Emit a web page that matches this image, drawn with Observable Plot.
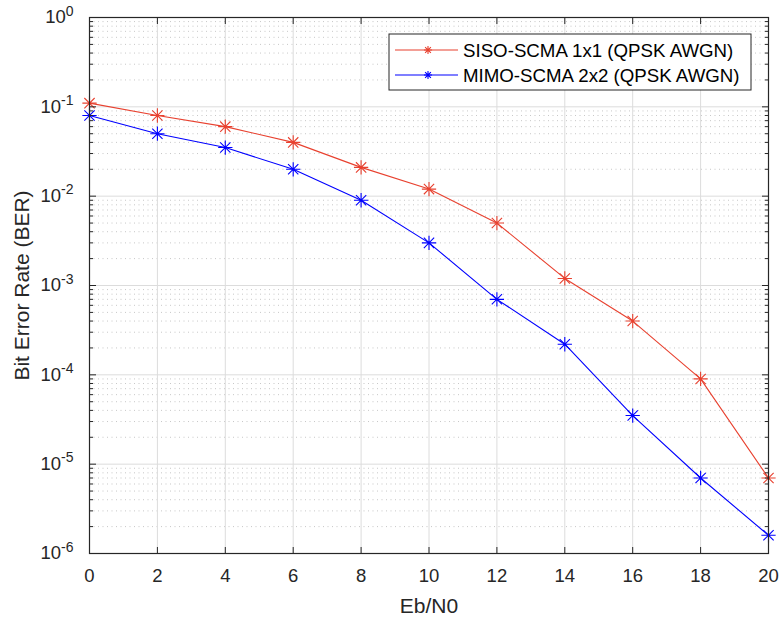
<!DOCTYPE html>
<html><head><meta charset="utf-8">
<script src="https://cdn.jsdelivr.net/npm/d3@7"></script>
<script src="https://cdn.jsdelivr.net/npm/@observablehq/plot@0.6"></script>
<style>
body{margin:0;background:#fff;}
#chart{position:relative;width:779px;height:619px;}
svg{font-family:"Liberation Sans",Arial,Helvetica,sans-serif;}
</style></head>
<body><div id="chart"></div>
<script>
const ebn0 = [0, 2, 4, 6, 8, 10, 12, 14, 16, 18, 20];
const sisoBER = [0.11, 0.08, 0.06, 0.04, 0.021, 0.012, 0.005, 0.0012, 0.0004, 9e-5, 7e-6];
const mimoBER = [0.08, 0.05, 0.035, 0.02, 0.009, 0.003, 7e-4, 2.2e-4, 3.5e-5, 7e-6, 1.6e-6];
const seriesNames = ["SISO-SCMA 1x1 (QPSK AWGN)", "MIMO-SCMA 2x2 (QPSK AWGN)"];
const seriesColors = ["#e8412f", "#0000ff"];
const xTicks = [0, 2, 4, 6, 8, 10, 12, 14, 16, 18, 20];
const yMajor = [1e-6, 1e-5, 1e-4, 1e-3, 1e-2, 1e-1, 1];
const yMinor = [];
for (let e = -6; e < 0; e++) for (let m = 2; m <= 9; m++) yMinor.push(+(m * Math.pow(10, e)).toPrecision(3));

const data = [];
ebn0.forEach((x, i) => {
  data.push({x, y: sisoBER[i], s: seriesNames[0]});
  data.push({x, y: mimoBER[i], s: seriesNames[1]});
});

const asterisk = {
  draw(ctx, size) {
    const r = Math.sqrt(size) * 0.62;
    const d = r * 0.72;
    ctx.moveTo(0, -r); ctx.lineTo(0, r);
    ctx.moveTo(-r, 0); ctx.lineTo(r, 0);
    ctx.moveTo(-d, -d); ctx.lineTo(d, d);
    ctx.moveTo(-d, d); ctx.lineTo(d, -d);
  }
};

const axisColor = "#262626";
const chart = Plot.plot({
  width: 779, height: 619,
  marginLeft: 89, marginRight: 11, marginTop: 17, marginBottom: 66,
  style: {fontFamily: '"Liberation Sans", Arial, Helvetica, sans-serif', color: axisColor, background: "#fff"},
  x: {domain: [0, 20]},
  y: {type: "log", domain: [1e-6, 1]},
  color: {domain: seriesNames, range: seriesColors},
  marks: [
    Plot.ruleY(yMinor, {stroke: "#b4b4b4", strokeOpacity: 0.75, strokeDasharray: "1,3.5", strokeWidth: 1}),
    Plot.ruleY(yMajor, {stroke: "#dcdcdc", strokeWidth: 1}),
    Plot.ruleX(xTicks, {stroke: "#dcdcdc", strokeWidth: 1}),
    Plot.line(data, {x: "x", y: "y", z: "s", stroke: "s", strokeWidth: 1.1}),
    Plot.dot(data, {x: "x", y: "y", stroke: "s", symbol: asterisk, r: 6.5, strokeWidth: 1.1}),
    Plot.axisX(xTicks, {anchor: "bottom", tickSize: -6, tickPadding: 21, label: null, stroke: axisColor}),
    Plot.axisX(xTicks, {anchor: "top", tickSize: -6, tickFormat: () => "", label: null, stroke: axisColor}),
    Plot.axisY(yMajor, {anchor: "left", tickSize: -7, tickPadding: 23, label: null, tickFormat: d => "10^" + Math.round(Math.log10(d)), stroke: axisColor}),
    Plot.axisY(yMinor, {anchor: "left", tickSize: -4, tickFormat: () => "", label: null, stroke: axisColor}),
    Plot.axisY(yMajor, {anchor: "right", tickSize: -7, tickFormat: () => "", label: null, stroke: axisColor}),
    Plot.axisY(yMinor, {anchor: "right", tickSize: -4, tickFormat: () => "", label: null, stroke: axisColor}),
    Plot.frame({stroke: axisColor, strokeWidth: 1.2}),
    Plot.text(["Eb/N0"], {frameAnchor: "bottom", dy: 53, lineAnchor: "middle", textAnchor: "middle", fill: axisColor, fontSize: 21}),
    Plot.text(["Bit Error Rate (BER)"], {frameAnchor: "left", dx: -67, rotate: -90, lineAnchor: "middle", textAnchor: "middle", fill: axisColor, fontSize: 21})
  ]
});
document.getElementById("chart").appendChild(chart);

const svg = d3.select(chart);
svg.selectAll("text").each(function() {
  const t = this.textContent;
  const el = d3.select(this);
  if (/^-?\d+$/.test(t)) { el.style("font-size", "18.5px").style("fill", axisColor); return; }
  const m = /^10\^(-?\d+)$/.exec(t);
  if (!m) return;
  el.style("font-size", "18.5px").style("fill", axisColor);
  el.text("");
  el.append("tspan").text("10");
  el.append("tspan").attr("dy", "-0.55em").style("font-size", "14px").text(m[1]);
});

// legend
const lx = 389, ly = 34, lw = 362, lh = 56;
const lg = svg.append("g").attr("class", "legend");
lg.append("rect").attr("x", lx).attr("y", ly).attr("width", lw).attr("height", lh)
  .attr("fill", "#fff").attr("stroke", axisColor).attr("stroke-width", 1);
seriesNames.forEach((name, i) => {
  const yy = ly + 16 + i * 25;
  lg.append("line").attr("x1", lx + 6).attr("x2", lx + 69).attr("y1", yy).attr("y2", yy)
    .attr("stroke", seriesColors[i]).attr("stroke-width", 1.1);
  const p = d3.path(); asterisk.draw(p, 6.5 * 6.5);
  lg.append("path").attr("d", p.toString()).attr("transform", `translate(${lx + 39},${yy})`)
    .attr("stroke", seriesColors[i]).attr("fill", "none").attr("stroke-width", 1.1);
  lg.append("text").attr("x", lx + 74).attr("y", yy).attr("dy", "0.35em")
    .attr("text-anchor", "start").style("font-size", "18.7px").attr("fill", "#000").text(name);
});
</script></body></html>
